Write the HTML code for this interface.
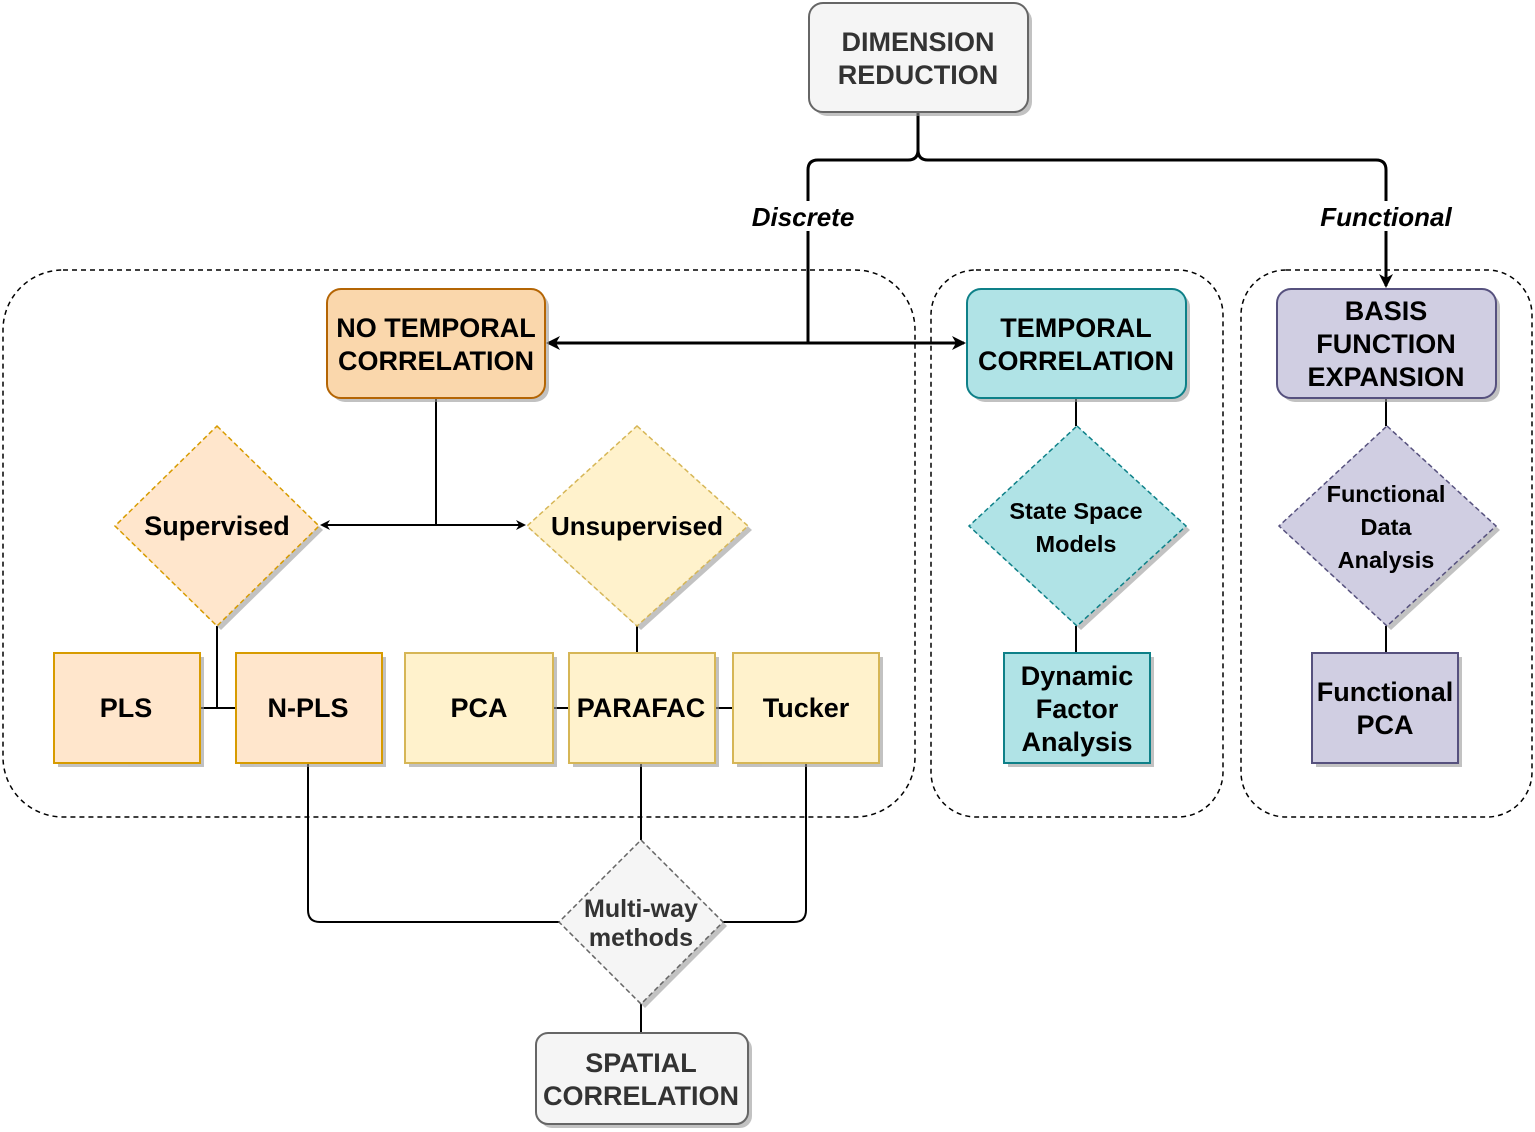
<!DOCTYPE html>
<html><head><meta charset="utf-8"><style>
html,body{margin:0;padding:0;background:#fff;}
svg{display:block;}
text{font-family:"Liberation Sans",Arial,sans-serif;font-weight:bold;fill:#000;text-anchor:middle;}
</style></head><body>
<svg width="1535" height="1132" viewBox="0 0 1535 1132" xmlns="http://www.w3.org/2000/svg">
<defs>
<marker id="ar" markerWidth="10" markerHeight="10" refX="8" refY="5" orient="auto" markerUnits="userSpaceOnUse">
<path d="M0,0 L10,5 L0,10 L3,5 Z" fill="#000"/></marker>
<marker id="ar2" markerWidth="14" markerHeight="14" refX="12" refY="7" orient="auto" markerUnits="userSpaceOnUse">
<path d="M0,0 L14,7 L0,14 L4,7 Z" fill="#000"/></marker>
</defs>

<rect x="3" y="270" width="912" height="547" rx="60" fill="none" stroke="#000" stroke-width="1.5" stroke-dasharray="5,4"/>
<rect x="931" y="270" width="292" height="547" rx="45" fill="none" stroke="#000" stroke-width="1.5" stroke-dasharray="5,4"/>
<rect x="1241" y="270" width="291" height="547" rx="45" fill="none" stroke="#000" stroke-width="1.5" stroke-dasharray="5,4"/>

<path d="M918,112 V150 Q918,160 908,160 H818 Q808,160 808,170 V343" fill="none" stroke="#000" stroke-width="3"/>
<path d="M918,150 Q918,160 928,160 H1376 Q1386,160 1386,170 V286" fill="none" stroke="#000" stroke-width="3" marker-end="url(#ar2)"/>
<path d="M808,343 H548" fill="none" stroke="#000" stroke-width="3" marker-end="url(#ar2)"/>
<path d="M808,343 H964" fill="none" stroke="#000" stroke-width="3" marker-end="url(#ar2)"/>
<rect x="748" y="201" width="112" height="30" fill="#fff"/>
<rect x="1316" y="201" width="142" height="30" fill="#fff"/>
<text x="803" y="226" font-size="26" font-style="italic">Discrete</text>
<text x="1386" y="226" font-size="26" font-style="italic">Functional</text>

<g fill="none" stroke="#000" stroke-width="2">
<path d="M436,398 V525"/>
<path d="M436,525 H322" marker-end="url(#ar)"/>
<path d="M436,525 H524" marker-end="url(#ar)"/>
<path d="M217,626 V708 M200,708 H236"/>
<path d="M637,626 V653 M553,708 H569 M715,708 H733"/>
<path d="M641,763 V840"/>
<path d="M308,763 V910 Q308,922 320,922 H560"/>
<path d="M806,763 V910 Q806,922 794,922 H723"/>
<path d="M641,1004 V1033"/>
<path d="M1076,398 V426 M1076,626 V653"/>
<path d="M1386,398 V426 M1386,626 V653"/>
</g>

<g fill="#999" opacity="0.6">
<rect x="813" y="7" width="219" height="109" rx="14"/>
<rect x="331" y="293" width="218" height="109" rx="14"/>
<rect x="971" y="293" width="219" height="109" rx="14"/>
<rect x="1281" y="293" width="219" height="109" rx="14"/>
<rect x="58" y="657" width="146" height="110"/>
<rect x="240" y="657" width="146" height="110"/>
<rect x="409" y="657" width="148" height="110"/>
<rect x="573" y="657" width="146" height="110"/>
<rect x="737" y="657" width="146" height="110"/>
<rect x="1008" y="657" width="146" height="110"/>
<rect x="1316" y="657" width="146" height="110"/>
<rect x="540" y="1037" width="212" height="91" rx="12"/>
<path d="M221,430 L323,530 L221,630 L119,530 Z"/>
<path d="M641,430 L752,530 L641,630 L531,530 Z"/>
<path d="M1081,430 L1190,530 L1081,630 L973,530 Z"/>
<path d="M1391,430 L1500,530 L1391,630 L1283,530 Z"/>
<path d="M645,844 L727,926 L645,1008 L563,926 Z"/>
</g>

<rect x="809" y="3" width="219" height="109" rx="14" fill="#f5f5f5" stroke="#666" stroke-width="2"/>
<rect x="327" y="289" width="218" height="109" rx="14" fill="#fad7ac" stroke="#b46504" stroke-width="2"/>
<rect x="967" y="289" width="219" height="109" rx="14" fill="#b0e3e6" stroke="#0e8088" stroke-width="2"/>
<rect x="1277" y="289" width="219" height="109" rx="14" fill="#d0cee2" stroke="#56517e" stroke-width="2"/>
<rect x="54" y="653" width="146" height="110" fill="#ffe6cc" stroke="#d79b00" stroke-width="2"/>
<rect x="236" y="653" width="146" height="110" fill="#ffe6cc" stroke="#d79b00" stroke-width="2"/>
<rect x="405" y="653" width="148" height="110" fill="#fff2cc" stroke="#d6b656" stroke-width="2"/>
<rect x="569" y="653" width="146" height="110" fill="#fff2cc" stroke="#d6b656" stroke-width="2"/>
<rect x="733" y="653" width="146" height="110" fill="#fff2cc" stroke="#d6b656" stroke-width="2"/>
<rect x="1004" y="653" width="146" height="110" fill="#b0e3e6" stroke="#0e8088" stroke-width="2"/>
<rect x="1312" y="653" width="146" height="110" fill="#d0cee2" stroke="#56517e" stroke-width="2"/>
<rect x="536" y="1033" width="212" height="91" rx="12" fill="#f5f5f5" stroke="#666" stroke-width="2"/>

<g stroke-width="1.5" stroke-dasharray="5,3">
<path d="M217,426 L319,526 L217,626 L115,526 Z" fill="#ffe6cc" stroke="#d79b00"/>
<path d="M637,426 L748,526 L637,626 L527,526 Z" fill="#fff2cc" stroke="#d6b656"/>
<path d="M1077,426 L1186,526 L1077,626 L969,526 Z" fill="#b0e3e6" stroke="#0e8088"/>
<path d="M1387,426 L1496,526 L1387,626 L1279,526 Z" fill="#d0cee2" stroke="#56517e"/>
<path d="M641,840 L723,922 L641,1004 L559,922 Z" fill="#f5f5f5" stroke="#666"/>
</g>

<g font-size="27">
<text x="918" y="51" style="fill:#333">DIMENSION</text>
<text x="918" y="84" style="fill:#333">REDUCTION</text>
<text x="436" y="337">NO TEMPORAL</text>
<text x="436" y="370">CORRELATION</text>
<text x="1076" y="337">TEMPORAL</text>
<text x="1076" y="370">CORRELATION</text>
<text x="1386" y="320">BASIS</text>
<text x="1386" y="353">FUNCTION</text>
<text x="1386" y="386">EXPANSION</text>
<text x="126" y="717">PLS</text>
<text x="308" y="717">N-PLS</text>
<text x="479" y="717">PCA</text>
<text x="641" y="717">PARAFAC</text>
<text x="806" y="717">Tucker</text>
<text x="1077" y="685">Dynamic</text>
<text x="1077" y="718">Factor</text>
<text x="1077" y="751">Analysis</text>
<text x="1385" y="701">Functional</text>
<text x="1385" y="734">PCA</text>
<text x="641" y="1072" style="fill:#333">SPATIAL</text>
<text x="641" y="1105" style="fill:#333">CORRELATION</text>
</g>
<text x="217" y="535" font-size="27">Supervised</text>
<text x="637" y="535" font-size="26">Unsupervised</text>
<g font-size="23.5">
<text x="1076" y="519">State Space</text>
<text x="1076" y="552">Models</text>
<text x="1386" y="502">Functional</text>
<text x="1386" y="535">Data</text>
<text x="1386" y="568">Analysis</text>
</g>
<g font-size="25">
<text x="641" y="917" style="fill:#333">Multi-way</text>
<text x="641" y="946" style="fill:#333">methods</text>
</g>
</svg>
</body></html>
